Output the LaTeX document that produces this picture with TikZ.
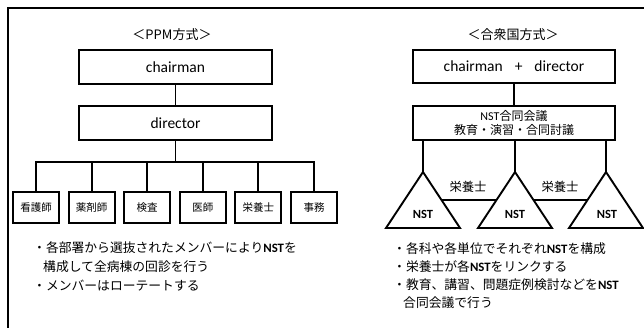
\documentclass[tikz,border=0pt]{standalone}
\usepackage{fontspec}
\setmainfont{Noto Sans CJK JP}
\newfontfamily\lat{Carlito}
\usetikzlibrary{calc}
\begin{document}
\begin{tikzpicture}[x=1pt,y=-1pt,
  orgbox/.style={draw,line width=1.9pt,minimum width=193pt,minimum height=34pt,inner sep=0pt,font=\lat\fontsize{15.5}{18}\selectfont},
  sbox/.style={draw,line width=1.9pt,minimum width=46pt,minimum height=31pt,inner sep=0pt,font=\fontsize{10.5}{12}\selectfont},
  conn/.style={line width=1.9pt},
  tri/.style={line width=1.9pt},
  ttl/.style={font=\fontsize{13}{15}\selectfont,inner sep=0pt},
  txt/.style={font=\fontsize{12.8}{15}\selectfont,anchor=west,inner sep=0pt},
  lbl/.style={font=\fontsize{12.3}{14}\selectfont,inner sep=0pt},
  nstl/.style={font=\lat\bfseries\fontsize{12.5}{14}\selectfont,inner sep=0pt}
]
\useasboundingbox (0,0) rectangle (644,327);
\clip (0,0) rectangle (644,327);
\draw[line width=1.5pt] (8,340) -- (8,8) -- (660,8);

% left: PPM
\node[ttl] (t-ppm) at (172,35) {＜PPM方式＞};
\node[orgbox] (ch) at (175.5,67) {chairman};
\node[orgbox] (dir) at (175.5,123) {director};
\draw[conn] (ch) -- (dir);
\node[sbox] (s1) at (36,207.5) {看護師};
\node[sbox] (s2) at (91.6,207.5) {薬剤師};
\node[sbox] (s3) at (147.2,207.5) {検査};
\node[sbox] (s4) at (202.8,207.5) {医師};
\node[sbox] (s5) at (258.4,207.5) {栄養士};
\node[sbox] (s6) at (314,207.5) {事務};
\coordinate (busy) at (0,162);
\draw[conn] (dir.south) -- (dir.south |- busy);
\draw[conn] (s1.north) -- (s1.north |- busy) -- (s6.north |- busy) -- (s6.north);
\foreach \i in {2,...,5} \draw[conn] (s\i.north) -- (s\i.north |- busy);

\node[txt] (l1) at (33,248) {・各部署から選抜されたメンバーにより{\lat\bfseries NST}を};
\node[txt] (l2) at (43,267) {構成して全病棟の回診を行う};
\node[txt] (l3) at (33,286) {・メンバーはローテートする};

% right: gasshukoku
\node[ttl] (t-gsk) at (513,35) {＜合衆国方式＞};
\node[orgbox,minimum width=202pt,minimum height=33pt] (cd) at (514,66.5) {chairman\hspace{12pt}+\hspace{12pt}director};
\node[draw,line width=1.9pt,minimum width=202pt,minimum height=34pt,inner sep=0pt,align=center,font=\fontsize{12}{14.5}\selectfont] (nst) at (514,123) {{\lat NST}合同会議\\教育・演習・合同討議};
\draw[conn] (cd) -- (nst);
\coordinate (t1) at (423,172);
\coordinate (t2) at (515,172);
\coordinate (t3) at (606,172);
\foreach \t in {t1,t2,t3} {
  \draw[conn] (nst.south -| \t) -- (\t);
  \draw[tri] (\t) -- ++(-37,56) -- ++(74,0) -- cycle;
}
\coordinate (t1r) at ($(t1)+(18.5,28)$);
\coordinate (t2l) at ($(t2)+(-18.5,28)$);
\coordinate (t2r) at ($(t2)+(18.5,28)$);
\coordinate (t3l) at ($(t3)+(-18.5,28)$);
\draw[conn] (t1r) -- (t2l);
\draw[conn] (t2r) -- (t3l);
\node[lbl] (e1) at (468,187) {栄養士};
\node[lbl] (e2) at (560,187) {栄養士};
\node[nstl] (n1) at (423,214) {NST};
\node[nstl] (n2) at (515,214) {NST};
\node[nstl] (n3) at (607,214) {NST};

\node[txt] (r1) at (393,249) {・各科や各単位でそれぞれ{\lat\bfseries NST}を構成};
\node[txt] (r2) at (393,267) {・栄養士が各{\lat\bfseries NST}をリンクする};
\node[txt] (r3) at (393,285) {・教育、講習、問題症例検討などを{\lat\bfseries NST}};
\node[txt] (r4) at (403,303) {合同会議で行う};
\end{tikzpicture}
\end{document}
